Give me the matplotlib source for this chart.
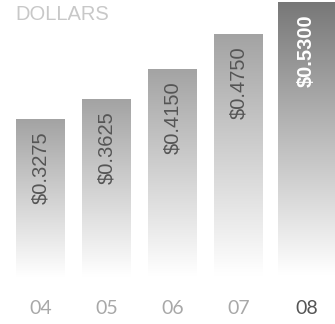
import numpy as np
import matplotlib
matplotlib.use('Agg')
import matplotlib.pyplot as plt

years = ['04', '05', '06', '07', '08']
values = [0.3275, 0.3625, 0.4150, 0.4750, 0.5300]
labels = ['$0.3275', '$0.3625', '$0.4150', '$0.4750', '$0.5300']

fig = plt.figure(figsize=(3.35, 3.24), dpi=100)
ax = fig.add_axes([0, 0.105, 1, 0.895])
ax.set_xlim(-0.614, 4.462)
ax.set_ylim(0.032, 0.5335)
ax.axis('off')

fade_bottom = 0.05
for i, v in enumerate(values):
    last = i == len(values) - 1
    w = 0.85 if last else 0.74
    x = i + (0.03 if last else 0)
    bar = ax.bar(x, v, width=w, color='none', edgecolor='none')[0]
    top = 0.47 if last else 0.64
    t = np.linspace(0, 1, 200)[:, None]  # 0 at top, 1 at bottom
    g = top + (1 - top) * np.clip(t * 1.02, 0, 1)
    img = np.dstack([g, g, g])
    im = ax.imshow(img, extent=[x - w / 2, x + w / 2, fade_bottom, v],
                   aspect='auto', interpolation='bilinear', zorder=1)
    im.set_clip_path(bar)
    ax.annotate(labels[i], xy=(x, v), xytext=(0, -9), textcoords='offset points',
                rotation=90, ha='center', va='top', fontsize=14.5,
                family='Liberation Sans',
                color='white' if last else '#555555',
                fontweight='bold' if last else 'normal', zorder=3)

for i, y in enumerate(years):
    last = i == len(years) - 1
    x = i + (0.03 if last else 0)
    ax.annotate(y, xy=(x, 0.032), xycoords='data', xytext=(0, -7),
                textcoords='offset points', ha='center', va='top',
                fontsize=14, family='Lato', annotation_clip=False,
                color='#555555' if last else '#a8a8a8')

fig.text(0.045, 0.955, 'DOLLARS', fontsize=14.5, family='Liberation Sans',
         color='#c8c8c8', ha='left', va='center')

fig.savefig('out.png', dpi=100, facecolor='white')
